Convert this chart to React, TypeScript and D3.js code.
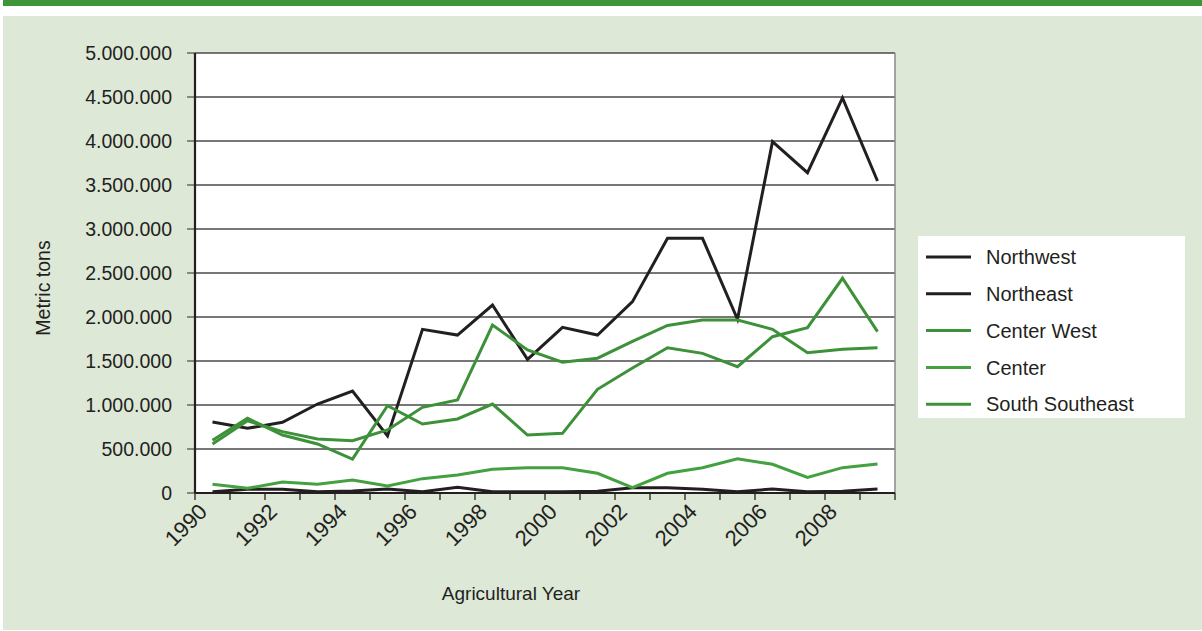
import React from "react";
import * as d3 from "d3";

const years = d3.range(1990, 2010).map(String);
const yTicks = [0, 500000, 1000000, 1500000, 2000000, 2500000, 3000000, 3500000, 4000000, 4500000, 5000000];
const xLabelYears = ["1990", "1992", "1994", "1996", "1998", "2000", "2002", "2004", "2006", "2008"];

const northwest = [807, 735, 803, 1011, 1159, 648, 1860, 1795, 2136, 1519, 1883, 1795, 2174, 2894, 2894, 1974, 3992, 3640, 4490, 3545];
const northeast = [15, 42, 42, 15, 22, 45, 15, 65, 15, 15, 15, 20, 60, 60, 42, 15, 45, 15, 20, 45];
const centerWest = [557, 820, 697, 614, 595, 716, 974, 1057, 1909, 1625, 1487, 1532, 1723, 1904, 1966, 1966, 1860, 1595, 1633, 1651];
const center = [99, 53, 125, 99, 148, 80, 163, 205, 269, 288, 288, 224, 60, 224, 288, 390, 326, 178, 288, 330];
const southSoutheast = [600, 849, 659, 557, 386, 992, 784, 841, 1011, 659, 678, 1178, 1420, 1651, 1587, 1435, 1776, 1879, 2440, 1833];

const seriesNames = ["Northwest", "Northeast", "Center West", "Center", "South Southeast"];
const seriesValues = [northwest, northeast, centerWest, center, southSoutheast];
const seriesColors = ["#231f20", "#231f20", "#3d9139", "#43a140", "#3d9139"];

const FONT = "'Liberation Sans', Arial, sans-serif";
const TXT = "#231f20";

export default function App() {
  const W = 1202, H = 631;
  const left = 195, right = 895, top = 53, bottom = 493;
  const x = d3.scaleBand().domain(years).range([left, right]);
  const y = d3.scaleLinear().domain([0, 5000000]).range([bottom, top]);
  const fmt = (v: number) => (v === 0 ? "0" : d3.format(",")(v).replace(/,/g, "."));
  const line = d3
    .line<number>()
    .x((_, i) => (x(years[i]) as number) + x.bandwidth() / 2)
    .y((v) => y(v * 1000));

  return (
    <svg width={W} height={H} style={{ position: "absolute", left: 0, top: 0 }} fontFamily={FONT}>
      <rect x={0} y={0} width={W} height={H} fill="#ffffff" />
      <rect x={3} y={0} width={W - 3} height={6} fill="#3d9439" />
      <rect x={3} y={16} width={W - 3} height={614} fill="#dde8d7" />
      <rect x={left} y={top} width={right - left} height={bottom - top} fill="#ffffff" />
      {yTicks.map((t) => (
        <g key={t}>
          {t > 0 && (
            <line x1={left} x2={right} y1={y(t)} y2={y(t)} stroke="#4a4a4a" strokeWidth={1.3} />
          )}
          <line x1={187} x2={left} y1={y(t)} y2={y(t)} stroke="#555" strokeWidth={1.3} />
          <text x={172} y={y(t)} dy="0.36em" textAnchor="end" fontSize={19.5} fill={TXT}>
            {fmt(t)}
          </text>
        </g>
      ))}
      <line x1={right} x2={right} y1={top} y2={bottom} stroke="#8a8a8a" strokeWidth={1.5} />
      {years.map((yr) => (
        <line
          key={yr}
          x1={x(yr) as number}
          x2={x(yr) as number}
          y1={bottom}
          y2={bottom + 7}
          stroke="#231f20"
          strokeWidth={1.3}
        />
      ))}
      <line x1={right} x2={right} y1={bottom} y2={bottom + 7} stroke="#231f20" strokeWidth={1.3} />
      {seriesValues.map((vals, k) => (
        <path key={k} d={line(vals) as string} fill="none" stroke={seriesColors[k]} strokeWidth={3} strokeLinejoin="miter" />
      ))}
      <line x1={left} x2={left} y1={top} y2={bottom} stroke="#231f20" strokeWidth={2.2} />
      <line x1={left} x2={right} y1={bottom} y2={bottom} stroke="#231f20" strokeWidth={2.2} />
      {xLabelYears.map((yr) => {
        const cx = (x(yr) as number) + x.bandwidth() / 2;
        return (
          <text
            key={yr}
            transform={`translate(${cx - 4},${bottom + 20}) rotate(-45)`}
            textAnchor="end"
            fontSize={22}
            fill={TXT}
          >
            {yr}
          </text>
        );
      })}
      <text x={511} y={593} dy="0.36em" textAnchor="middle" fontSize={19} fill={TXT}>
        Agricultural Year
      </text>
      <text transform={`translate(43,288) rotate(-90)`} dy="0.36em" textAnchor="middle" fontSize={19.5} fill={TXT}>
        Metric tons
      </text>
      <rect x={918} y={236} width={267} height={182} fill="#ffffff" />
      {seriesNames.map((n, k) => {
        const cy = 257 + k * 36.8;
        return (
          <g key={n}>
            <line x1={926} x2={971} y1={cy} y2={cy} stroke={seriesColors[k]} strokeWidth={3} />
            <text x={986} y={cy} dy="0.36em" fontSize={20} fill={TXT}>
              {n}
            </text>
          </g>
        );
      })}
    </svg>
  );
}
